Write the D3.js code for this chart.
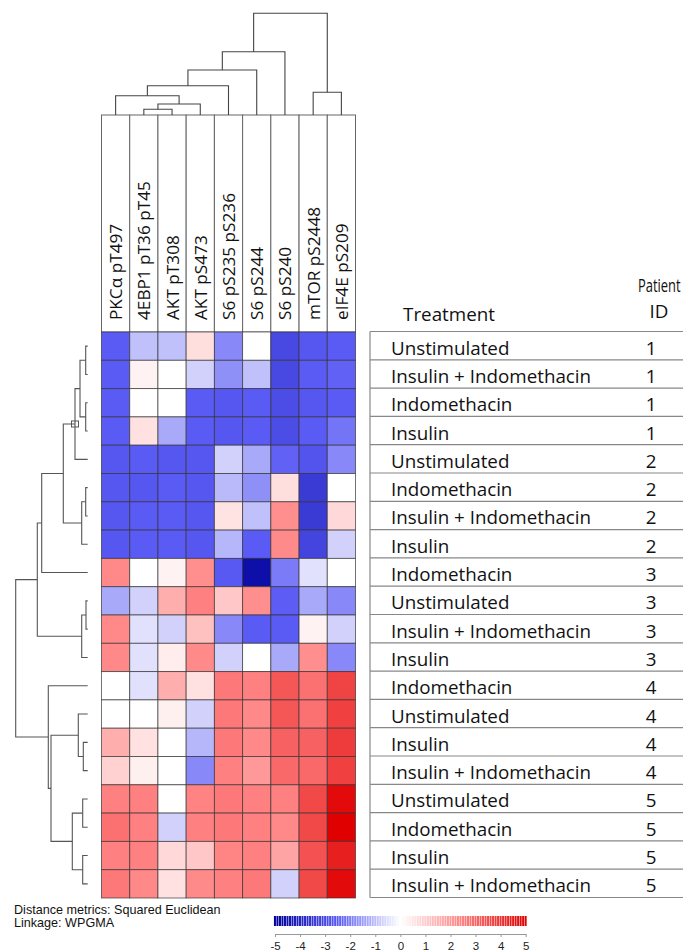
<!DOCTYPE html>
<html>
<head>
<meta charset="utf-8">
<script src="https://cdn.jsdelivr.net/npm/d3@7"></script>
<style>
  body { margin: 0; background: #fff; }
  svg { display: block; }
</style>
</head>
<body>
<svg id="chart" width="683" height="952"></svg>
<script>
// ---------- DATA ----------
const columns = ["PKCα pT497", "4EBP1 pT36 pT45", "AKT pT308", "AKT pS473",
  "S6 pS235 pS236", "S6 pS244", "S6 pS240", "mTOR pS2448", "eIF4E pS209"];

const treatments = ["Unstimulated", "Insulin + Indomethacin", "Indomethacin", "Insulin",
  "Unstimulated", "Indomethacin", "Insulin + Indomethacin", "Insulin",
  "Indomethacin", "Unstimulated", "Insulin + Indomethacin", "Insulin",
  "Indomethacin", "Unstimulated", "Insulin", "Insulin + Indomethacin",
  "Unstimulated", "Indomethacin", "Insulin", "Insulin + Indomethacin"];

const patientIds = [1, 1, 1, 1, 2, 2, 2, 2, 3, 3, 3, 3, 4, 4, 4, 4, 5, 5, 5, 5];

// rows follow the row order above, columns follow `columns`
const cellValues = [
  [-2.5, -0.95, -0.95, 0.65, -1.8, 0, -3.0, -2.6, -2.5],
  [-2.5, 0.25, 0, -0.7, -1.7, -0.95, -3.0, -2.5, -2.4],
  [-2.5, 0, 0, -2.5, -2.6, -2.5, -2.9, -2.6, -2.5],
  [-2.5, 0.6, -1.3, -2.5, -2.6, -2.5, -2.9, -2.5, -2.1],
  [-2.6, -2.5, -2.6, -2.6, -0.7, -1.3, -2.4, -2.7, -1.8],
  [-2.6, -2.6, -2.5, -2.6, -1.05, -1.7, 0.65, -3.4, 0],
  [-2.6, -2.5, -2.5, -2.6, 0.55, -0.95, 2.2, -3.4, 0.75],
  [-2.6, -2.5, -2.5, -2.6, -1.1, -2.5, 2.3, -3.1, -0.7],
  [2.35, 0, 0.25, 2.2, -2.55, -4.6, -2.0, -0.45, 0],
  [-1.3, -0.7, 1.6, 2.5, 1.1, 2.2, -2.45, -1.3, -1.8],
  [2.35, -0.45, -0.7, 1.25, -1.8, -2.5, -2.5, 0.25, -0.7],
  [2.35, -0.45, 0.35, 2.3, -0.7, 0, -1.3, 2.2, -1.8],
  [0, -0.45, 1.6, 0.6, 2.65, 2.5, 3.3, 2.8, 3.7],
  [0, 0, 0.3, -0.7, 2.65, 2.35, 3.3, 2.8, 3.75],
  [1.6, 0.6, 0, -1.1, 2.65, 2.35, 3.1, 3.1, 3.85],
  [0.9, 0.3, 0, -1.8, 2.5, 2.0, 2.95, 2.95, 3.75],
  [2.5, 2.5, 0, 2.45, 2.65, 2.5, 2.5, 3.6, 4.8],
  [2.8, 2.5, -0.7, 2.5, 2.65, 2.5, 2.35, 3.6, 5.0],
  [2.5, 2.5, 0.75, 1.1, 2.4, 2.5, 1.8, 3.4, 4.4],
  [2.65, 2.35, 0.6, 2.3, 2.5, 2.65, -0.7, 3.6, 4.8]
];

// linkage (child a, child b, merge distance); leaves are 0..n-1, clusters n, n+1, ...
const columnLinkage = [
  [1, 2, 5.7], [9, 3, 11], [0, 10, 19.3], [11, 4, 29.3], [12, 5, 45],
  [13, 6, 63.3], [7, 8, 22.7], [14, 15, 101.7]
];
const rowLinkage = [
  [0, 1, 2], [2, 3, 2], [20, 21, 7.7], [22, 4, 12.7], [5, 6, 2], [24, 7, 6],
  [23, 25, 24.4], [26, 8, 46], [9, 10, 1.7], [28, 11, 6], [27, 29, 50.4],
  [14, 15, 4.4], [13, 31, 9.4], [16, 17, 5], [18, 19, 5], [33, 34, 15.4],
  [32, 35, 36.7], [12, 36, 39.4], [30, 37, 72]
];
const markedRowCluster = 23; // small box drawn at this cluster's junction in the source

const legendTicks = [-5, -4, -3, -2, -1, 0, 1, 2, 3, 4, 5];
const footnotes = ["Distance metrics: Squared Euclidean", "Linkage: WPGMA"];
const headerTreatment = "Treatment";
const headerPatient = ["Patient", "ID"];

// ---------- DRAWING ----------
const svg = d3.select("#chart");
const tableFont = "'Open Sans', 'Noto Sans', sans-serif";
const tableSize = 18.8;

const color = d3.scaleLinear()
  .domain([-5, -2.5, 0, 2.5, 5])
  .range(["#00009a", "#5a5af5", "#ffffff", "#ff8080", "#e00000"])
  .clamp(true);

const x = d3.scaleBand().domain(d3.range(columns.length)).range([101.5, 355.5]);
const y = d3.scaleBand().domain(d3.range(treatments.length)).range([332, 898]);

// column label box
const labelTop = 115;
const labelG = svg.append("g");
labelG.selectAll("rect").data(columns).join("rect")
  .attr("x", (d, i) => x(i)).attr("y", labelTop)
  .attr("width", x.bandwidth()).attr("height", y.range()[0] - labelTop)
  .attr("fill", "#fff").attr("stroke", "#666").attr("stroke-width", 1);
labelG.selectAll("text").data(columns).join("text")
  .attr("transform", (d, i) => `translate(${x(i) + x.bandwidth() / 2 + 6.5},320) rotate(-90)`)
  .attr("font-family", tableFont).attr("font-size", 17.2).attr("fill", "#111")
  .text(d => d);

// heatmap cells
const cells = [];
cellValues.forEach((row, r) => row.forEach((v, c) => cells.push({ r, c, v })));
svg.append("g").selectAll("rect").data(cells).join("rect")
  .attr("x", d => x(d.c)).attr("y", d => y(d.r))
  .attr("width", x.bandwidth()).attr("height", y.bandwidth())
  .attr("fill", d => color(d.v))
  .attr("stroke", "#333").attr("stroke-opacity", 0.75).attr("stroke-width", 0.9);

// dendrogram helper
function buildTree(linkage, n, leafPos) {
  const nodes = d3.range(n).map(i => ({ pos: leafPos(i), h: 0 }));
  const segs = [];
  linkage.forEach(([a, b, h]) => {
    const A = nodes[a], B = nodes[b];
    segs.push({ a: A, b: B, h });
    nodes.push({ pos: (A.pos + B.pos) / 2, h });
  });
  return { segs, nodes };
}

// top dendrogram
const hTop = d3.scaleLinear().domain([0, 101.7]).range([labelTop, 13.3]);
const topTree = buildTree(columnLinkage, columns.length, i => x(i) + x.bandwidth() / 2);
svg.append("g").selectAll("path").data(topTree.segs).join("path")
  .attr("d", s => `M${s.a.pos},${hTop(s.a.h)}V${hTop(s.h)}H${s.b.pos}V${hTop(s.b.h)}`)
  .attr("fill", "none").attr("stroke", "#444").attr("stroke-width", 1.1);

// left dendrogram
const hLeft = d3.scaleLinear().domain([0, 72]).range([87.7, 15.7]);
const leftTree = buildTree(rowLinkage, treatments.length, i => y(i) + y.bandwidth() / 2);
const leftG = svg.append("g");
leftG.selectAll("path").data(leftTree.segs).join("path")
  .attr("d", s => `M${hLeft(s.a.h)},${s.a.pos}H${hLeft(s.h)}V${s.b.pos}H${hLeft(s.b.h)}`)
  .attr("fill", "none").attr("stroke", "#555").attr("stroke-width", 1.1);
const mk = leftTree.nodes[markedRowCluster];
leftG.append("rect")
  .attr("x", hLeft(mk.h) - 3.5).attr("y", mk.pos - 3)
  .attr("width", 7).attr("height", 6)
  .attr("fill", "none").attr("stroke", "#555").attr("stroke-width", 1);

// table
const tX0 = 370, tX1 = 683, numX = 651, txtX = 391;
const tab = svg.append("g");
tab.selectAll("line.row").data(d3.range(treatments.length + 1)).join("line")
  .attr("x1", tX0).attr("x2", tX1)
  .attr("y1", i => (i < treatments.length ? y(i) : y.range()[1]) - 0.5)
  .attr("y2", i => (i < treatments.length ? y(i) : y.range()[1]) - 0.5)
  .attr("stroke", "#888").attr("stroke-width", 1.2);
tab.append("line").attr("x1", tX0).attr("x2", tX0)
  .attr("y1", y.range()[0] - 0.5).attr("y2", y.range()[1] - 0.5)
  .attr("stroke", "#888").attr("stroke-width", 1.2);
tab.selectAll("text.treat").data(treatments).join("text").attr("class", "treat")
  .attr("x", txtX).attr("y", (d, i) => y(i) + y.bandwidth() / 2 + 8.5)
  .attr("font-family", tableFont).attr("font-size", tableSize).attr("fill", "#111")
  .text(d => d);
tab.selectAll("text.pid").data(patientIds).join("text").attr("class", "pid")
  .attr("x", numX).attr("y", (d, i) => y(i) + y.bandwidth() / 2 + 8.5)
  .attr("text-anchor", "middle")
  .attr("font-family", tableFont).attr("font-size", tableSize).attr("fill", "#111")
  .text(d => d);
tab.append("text").attr("x", 449).attr("y", 321).attr("text-anchor", "middle")
  .attr("font-family", tableFont).attr("font-size", tableSize).attr("fill", "#111")
  .text(headerTreatment);
tab.append("text").attr("transform", "translate(638,291.5) scale(0.74,1)")
  .attr("font-family", tableFont).attr("font-size", 17.5).attr("fill", "#111")
  .text(headerPatient[0]);
tab.append("text").attr("x", 659).attr("y", 318).attr("text-anchor", "middle")
  .attr("font-family", tableFont).attr("font-size", tableSize).attr("fill", "#111")
  .text(headerPatient[1]);

// footnotes
svg.append("g").selectAll("text").data(footnotes).join("text")
  .attr("x", 14).attr("y", (d, i) => 914 + i * 12.5)
  .attr("font-family", "Liberation Sans, Arial, sans-serif").attr("font-size", 12.6)
  .attr("fill", "#111").text(d => d);

// legend
const lx = d3.scaleLinear().domain([-5, 5]).range([275, 525.7]);
const stripeVals = d3.range(-50, 51).map(i => i / 10);
const stripeW = lx(0.1) - lx(0);
svg.append("g").selectAll("rect").data(stripeVals).join("rect")
  .attr("x", d => lx(d) - stripeW / 2 + 0.2).attr("y", 916)
  .attr("width", stripeW * 0.8).attr("height", 10)
  .attr("fill", d => color(d));

const axisG = svg.append("g").attr("transform", "translate(0,934)")
  .call(d3.axisBottom(lx).tickValues(legendTicks).tickSize(3).tickSizeOuter(0).tickPadding(5)
    .tickFormat(d => String(d)));
axisG.select(".domain").attr("stroke", "#999");
axisG.selectAll(".tick line").attr("stroke", "#999");
axisG.selectAll("text").attr("font-family", "Liberation Sans, Arial, sans-serif")
  .attr("font-size", 11.5).attr("fill", "#222");
</script>
</body>
</html>
